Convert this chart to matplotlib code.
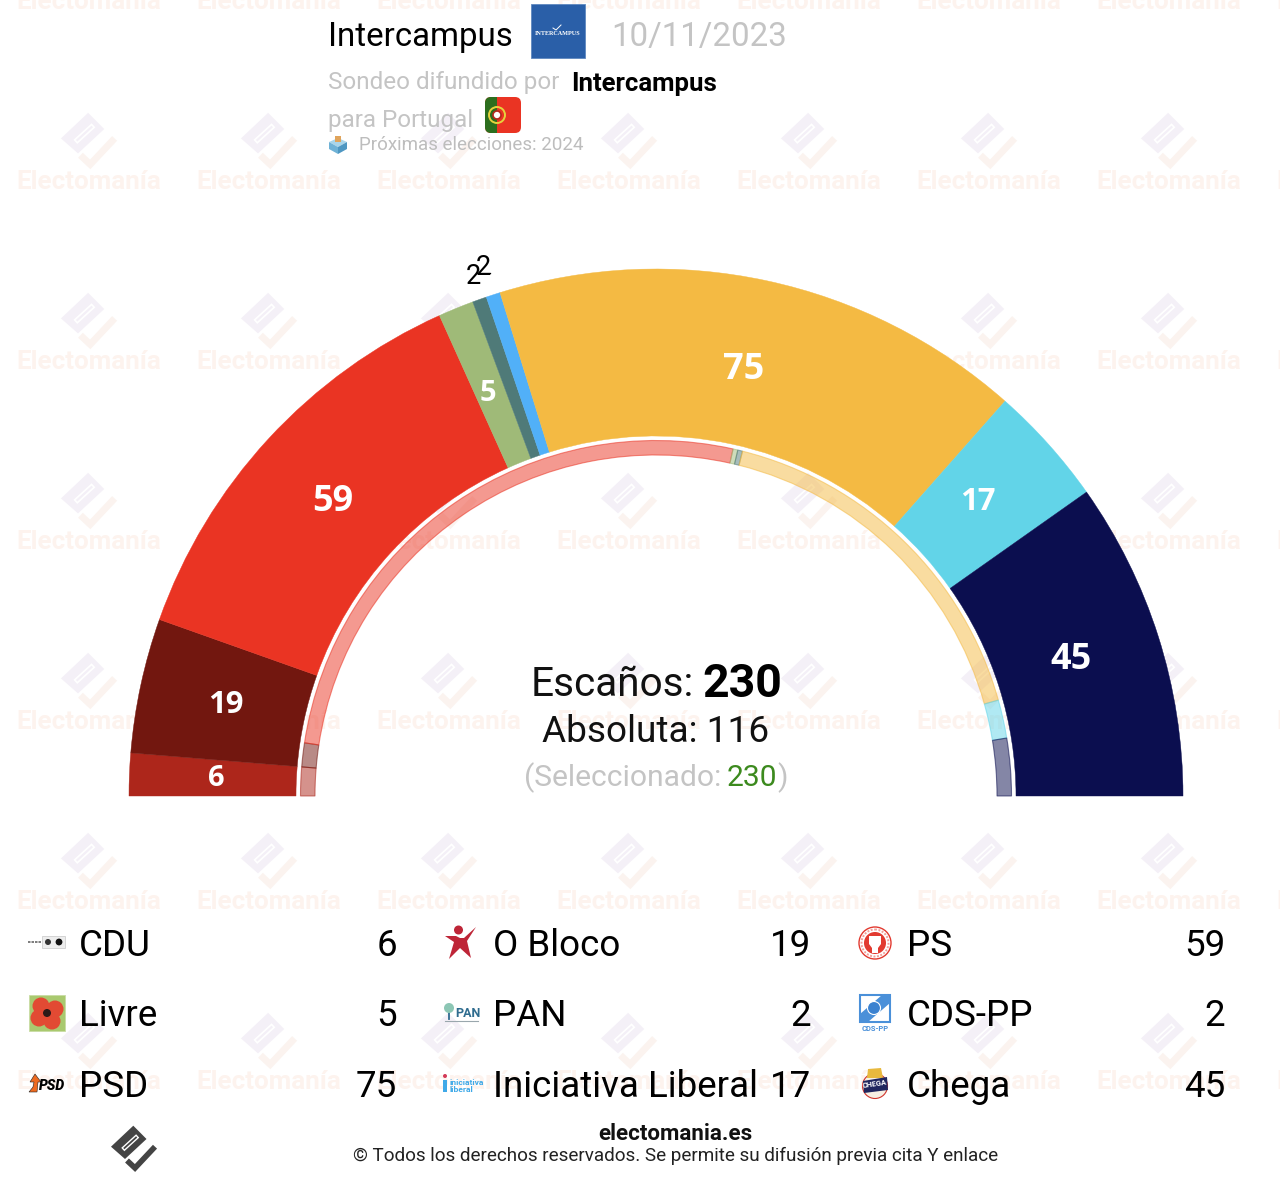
import numpy as np
import matplotlib
matplotlib.use("Agg")
import matplotlib.pyplot as plt
from matplotlib.colors import to_rgba
from matplotlib.patches import Wedge, Rectangle, Circle, Polygon, FancyBboxPatch

plt.rcParams['font.family'] = ['Roboto', 'DejaVu Sans']

# seats in the poll (outer arc)
parties = ['CDU', 'O Bloco', 'PS', 'Livre', 'PAN', 'CDS-PP', 'PSD', 'Iniciativa Liberal', 'Chega']
seats = [6, 19, 59, 5, 2, 2, 75, 17, 45]
# seats in the previous parliament (inner arc)
previous = [6, 5, 120, 1, 1, 0, 77, 8, 12]
colors = ['#AD261B', '#72170F', '#EA3423', '#9FBA78', '#4F7A78', '#51B0F8', '#F4BA43', '#62D4E8', '#0B0E4F']
total = 230

# legend goes left to right, top to bottom
legend_rows = [['CDU', 'O Bloco', 'PS'], ['Livre', 'PAN', 'CDS-PP'], ['PSD', 'Iniciativa Liberal', 'Chega']]

cx, cy = 656, 796
grey = '#c4c4c4'

fig = plt.figure(figsize=(12.8, 11.82), dpi=100)
ax = fig.add_axes([0, 0, 1, 1])
ax.set_xlim(0, 1280)
ax.set_ylim(1182, 0)
ax.axis('off')


def txt(x, y, s, px, **kw):
    # sizes are read in pixels, figure is 100 dpi. small nudge so y is the visual middle
    kw.setdefault('va', 'center')
    kw.setdefault('ha', 'left')
    kw.setdefault('zorder', 4)
    kw.setdefault('color', 'black')
    return ax.text(x, y + px * 0.07, s, fontsize=px * 0.72, **kw)


def draw_logo(x, y, scale, top, bottom, z=1):
    # electomania mark: filled block with a slot, check underneath
    block = np.array([(-0.7, -22.3), (12.5, -9), (-9, 11), (-23, -1.3)]) * scale
    ax.add_patch(Polygon(block + (x, y), facecolor=top, edgecolor='none', zorder=z))
    s = np.array([(-9.5, 0), (2, -10.5)]) * scale
    ax.plot(x + s[:, 0], y + s[:, 1], color='white', lw=4.6 * scale * 0.72, zorder=z)
    ax.plot(x + s[:, 0], y + s[:, 1], color=top, lw=1.8 * scale * 0.72, zorder=z)
    c = np.array([(-7, 12.5), (1, 20), (21, -1.3)]) * scale
    ax.plot(x + c[:, 0], y + c[:, 1], color=bottom, lw=5.6 * scale * 0.72, solid_joinstyle='miter',
            solid_capstyle='butt', zorder=z)


# background watermark
for col in range(8):
    for row in range(7):
        x = 89 + 180 * col
        txt(x, 180 * row, 'Electomanía', 26, fontweight='bold', color='#FDF3EE', ha='center', zorder=0)
        if row < 6:
            draw_logo(x, 140 + 180 * row, 1.22, '#F4F0F7', '#FBF3EF', z=0)

# outer arc
start = 0
for seat, color in zip(seats, colors):
    a0 = 180 + start / total * 180
    a1 = 180 + (start + seat) / total * 180
    ax.add_patch(Wedge((cx, cy), 527, a0, a1, width=167, facecolor=color, edgecolor=color, lw=0.3, zorder=2))
    start += seat

# inner arc, same colours but washed out
start = 0
for prev, color in zip(previous, colors):
    if prev > 0:
        a0 = 180 + start / total * 180
        a1 = 180 + (start + prev) / total * 180
        ax.add_patch(Wedge((cx, cy), 355.5, a0, a1, width=14.5, facecolor=to_rgba(color, 0.5),
                           edgecolor=to_rgba(color, 0.55), lw=0.8, zorder=2))
    start += prev

# seat labels
start = 0
for party, seat in zip(parties, seats):
    mid = (start + seat / 2) / total * 180
    rad = np.radians(mid * 0.992 + 0.4)
    if seat > 2:
        size = 36 if seat >= 45 else 31
        if seat in (5, 6):
            size = 29
        ax.text(cx - 1 - 439 * np.cos(rad), cy + 3.5 - 439 * np.sin(rad), str(seat), color='white', fontsize=size * 0.72,
                fontweight='bold', ha='center', va='center', family=['Open Sans', 'DejaVu Sans'], zorder=3)
    start += seat

# the two small parties get labels outside the arc
for idx, r, off in [(4, 552, 0.3), (5, 558, 0.0)]:
    mid = (sum(seats[:idx]) + seats[idx] / 2) / total * 180 + off
    rad = np.radians(mid)
    txt(cx - r * np.cos(rad), cy - r * np.sin(rad), str(seats[idx]), 27, ha='center', zorder=3)
ax.plot([477, 490], [273, 273], color='black', lw=0.9, zorder=3)

# centre text
txt(694, 682, 'Escaños:', 40.5, ha='right', color='#111111')
txt(702, 681, str(total), 46.5, fontweight='bold')
txt(656, 729, 'Absoluta: 116', 37, ha='center', color='#111111')
txt(721, 776, '(Seleccionado:', 30, ha='right', color=grey)
txt(727, 776, str(sum(seats)), 30, color='#3C8A1E')
txt(777, 776, ')', 30, color=grey)

# header
txt(328, 35, 'Intercampus', 33)
ax.add_patch(Rectangle((531, 4), 54, 54, facecolor='#2A5FA8', edgecolor='#5F88BF', lw=0.6, zorder=4))
txt(558, 33, 'INTERCAMPUS', 6.2, fontweight='bold', color='white', ha='center', family=['Liberation Serif'], zorder=5)
ax.plot([553, 556, 561], [28, 30, 25], color='white', lw=0.7, zorder=5)
txt(611, 35, '10/11/2023', 33, color=grey)
txt(328, 81, 'Sondeo difundido por', 24.2, color=grey)
txt(571.5, 82, 'Intercampus', 25.7, fontweight='bold')
txt(328, 119, 'para Portugal', 24.2, color=grey)

# flag
clip = FancyBboxPatch((485, 97), 36, 36, boxstyle='round,pad=0,rounding_size=6', facecolor='#EA3423', edgecolor='none', zorder=4)
ax.add_patch(clip)
green = Rectangle((485, 97), 12, 36, facecolor='#2C6E1E', edgecolor='none', zorder=5)
ax.add_patch(green)
green.set_clip_path(clip)
ax.add_patch(Circle((497, 115), 8, facecolor='none', edgecolor='#E6D23C', lw=1.4, zorder=6))
ax.add_patch(Circle((497, 115), 4, facecolor='white', edgecolor='#B5281E', lw=1.2, zorder=6))

# ballot box icon
ax.add_patch(Polygon([(329, 142), (338, 138), (347, 142), (338, 147)], facecolor='#A9D5EA', edgecolor='none', zorder=4))
ax.add_patch(Polygon([(329, 142), (338, 147), (338, 154), (329, 149)], facecolor='#6FB2D6', edgecolor='none', zorder=4))
ax.add_patch(Polygon([(347, 142), (338, 147), (338, 154), (347, 149)], facecolor='#4E97C2', edgecolor='none', zorder=4))
ax.add_patch(Rectangle((335, 136), 6, 6, facecolor='#E0A45C', edgecolor='none', zorder=5))
txt(359, 144, 'Próximas elecciones: 2024', 18.8, color='#bdbdbd')

# legend
name_x = [79, 493, 907]
value_x = [397, 811, 1225]
row_y = [943, 1013, 1084]
for r, row in enumerate(legend_rows):
    for c, name in enumerate(row):
        txt(name_x[c], row_y[r], name, 36.7)
        txt(value_x[c], row_y[r], str(seats[parties.index(name)]), 36.7, ha='right')

# legend logos, rough versions
# CDU
ax.add_patch(Rectangle((42, 936), 23, 12, facecolor='#EDEDED', edgecolor='#bbbbbb', lw=0.4, zorder=4))
ax.add_patch(Circle((48, 942), 3, facecolor='#333333', zorder=5))
ax.add_patch(Circle((59, 942), 3.4, facecolor='#111111', zorder=5))
ax.plot([28, 41], [942, 942], color='#666666', lw=1.2, ls=(0, (1.5, 0.6)), zorder=5)
# O Bloco
star = [(445, 936), (456, 936), (460, 938), (464, 938), (476, 927), (467, 941), (471, 958), (460, 948), (449, 959), (454, 942)]
ax.add_patch(Polygon(star, facecolor='#BE2537', edgecolor='none', zorder=4))
ax.add_patch(Circle((458.5, 930), 4.5, facecolor='#BE2537', edgecolor='none', zorder=4))
# PS
ax.add_patch(Circle((875, 943), 16, facecolor='white', edgecolor='#E23A30', lw=1.0, zorder=4))
ax.add_patch(Circle((875, 943), 11, facecolor='#E23A30', edgecolor='none', zorder=5))
ax.add_patch(Polygon([(869, 936), (881, 936), (881, 944), (878, 948), (878, 953), (872, 953), (872, 948), (869, 944)],
                     facecolor='white', edgecolor='none', zorder=6))
ax.add_patch(Circle((875, 943), 13.5, facecolor='none', edgecolor='#F2A09A', lw=1.4, ls=(0, (1, 0.8)), zorder=6))
# Livre
ax.add_patch(Rectangle((29, 995), 36, 36, facecolor='#A9C96F', edgecolor='#C9DDA4', lw=0.6, zorder=4))
for dx, dy in [(-6, -7), (8, -4), (-8, 5), (5, 8)]:
    ax.add_patch(Circle((47 + dx, 1013 + dy), 8.5, facecolor='#E24A33', edgecolor='none', zorder=5))
ax.add_patch(Circle((47, 1013), 4, facecolor='#2B1A18', edgecolor='none', zorder=6))
# PAN
ax.plot([449, 449], [1006, 1019], color='#2F6C8F', lw=1.3, zorder=4)
ax.add_patch(Circle((449, 1008), 5, facecolor='#8CC6B4', edgecolor='none', zorder=4))
txt(467.5, 1013, 'PAN', 12.5, fontweight='bold', color='#2F6C8F', ha='center')
ax.plot([445, 478], [1021, 1021], color='#9AA7AD', lw=0.8, zorder=4)
# CDS-PP
ax.add_patch(Rectangle((860, 995), 30, 27, facecolor='white', edgecolor='#4A90D9', lw=1.5, zorder=4))
ax.add_patch(Polygon([(860, 1022), (860, 1014), (882, 995), (890, 995), (890, 1003), (868, 1022)], facecolor='#4A90D9',
                     edgecolor='none', zorder=5))
ax.add_patch(Circle((874, 1008), 6.5, facecolor='#3B82D0', edgecolor='white', lw=0.8, zorder=6))
txt(875, 1028, 'CDS-PP', 7.5, fontweight='bold', color='#4A90D9', ha='center')
# PSD
ax.add_patch(Polygon([(35, 1074), (41, 1082), (38, 1082), (37, 1092), (29, 1092), (33, 1087), (34, 1082), (30, 1082)],
                     facecolor='#EE6A1F', edgecolor='#222222', lw=0.4, zorder=4))
txt(52, 1085, 'PSD', 14, fontweight='black', style='italic', ha='center')
# Iniciativa Liberal
ax.add_patch(Rectangle((443, 1080), 4, 12, facecolor='#3FA9E8', edgecolor='none', zorder=4))
ax.add_patch(Circle((445, 1076), 2, facecolor='#D33A58', edgecolor='none', zorder=4))
txt(450, 1082, 'iniciativa', 8.5, fontweight='bold', color='#3FA9E8')
txt(450, 1089, 'liberal', 8.5, fontweight='bold', color='#3FA9E8')
# Chega
ax.add_patch(Circle((875, 1086), 12.5, facecolor='#F7EFE3', edgecolor='#D0342C', lw=0.8, zorder=4))
ax.add_patch(Polygon([(868, 1069), (881, 1068), (883, 1078), (867, 1078)], facecolor='#E8B93E', edgecolor='none', zorder=5))
ax.add_patch(Polygon([(863, 1081), (887, 1077), (888, 1090), (864, 1093)], facecolor='#20265E', edgecolor='none', zorder=5))
txt(875, 1084, 'CHEGA', 7.5, fontweight='bold', color='white', ha='center', rotation=8, zorder=6)

# footer
draw_logo(134, 1148, 1.0, '#444444', '#444444', z=4)
txt(675, 1132, 'electomania.es', 22.4, fontweight='bold', ha='center', color='#111111')
txt(676, 1155, '© Todos los derechos reservados. Se permite su difusión previa cita Y enlace', 18.9, ha='center', color='#222222')

fig.savefig('out.png', dpi=100, facecolor='white')
